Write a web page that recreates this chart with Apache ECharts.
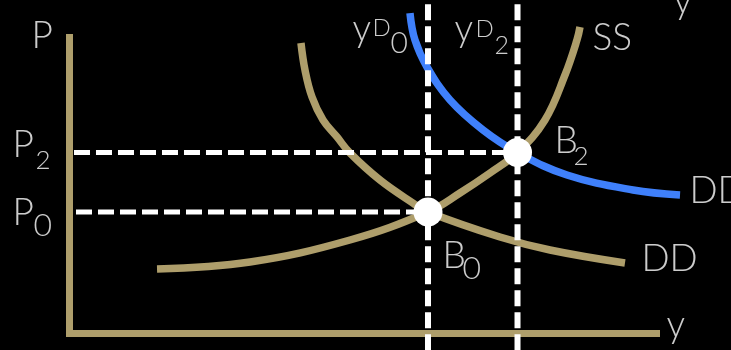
<!DOCTYPE html>
<html>
<head>
<meta charset="utf-8">
<script src="https://cdn.jsdelivr.net/npm/echarts@6/dist/echarts.min.js"></script>
<style>
html,body{margin:0;padding:0;background:#000;}
#c{width:731px;height:350px;}
</style>
</head>
<body>
<div id="c"></div>
<script>
// Axis frame (output y on x axis, price P on y axis), units 0..100
var axisFrame = [[0, 100], [0, 0], [100, 0]];
// Aggregate supply curve SS
var ssCurve = [[14.82, 21.54], [30.57, 23.87], [47.50, 31.22], [60.71, 40.57], [66.13, 46.91], [71.21, 53.59], [75.87, 60.43], [80.52, 71.29], [83.91, 86.31], [85.94, 98.00], [86.45, 102.34]];
// Original demand curve DD
var dd0Curve = [[39.20, 97.00], [39.88, 87.98], [41.07, 78.96], [42.93, 71.29], [45.30, 65.61], [47.50, 60.27], [52.58, 51.25], [58.17, 43.57], [60.71, 40.57], [72.90, 32.22], [81.37, 27.88], [94.07, 23.54]];
// Shifted demand curve DD (blue)
var dd2Curve = [[57.66, 107.01], [58.50, 98.00], [60.54, 88.98], [64.44, 77.96], [70.03, 67.95], [75.87, 60.43], [84.25, 52.92], [95.43, 47.91], [103.39, 46.24]];
// Equilibria B0, B2
var equilibria = [[60.71, 40.57], [75.87, 60.43]];
// Guide lines
var guideP2 = [[0.76, 60.43], [75.87, 60.43]];
var guideP0 = [[1.10, 40.57], [60.71, 40.57]];
var guideY0 = [[60.71, -5.6], [60.71, 111.4]];
var guideY2 = [[75.87, -5.6], [75.87, 111.4]];
// Text labels: text, anchor x, anchor y, font size
var labelTexts = ['P', 'P', '2', 'P', '0', 'B', '0', 'B', '2', 'SS', 'DD', 'DD', 'y', 'y', 'y', 'D', '0', 'y', 'D', '2'];
var labelX = [-6.35, -9.57, -5.67, -9.57, -6.01, 63.25, 66.64, 82.22, 85.44, 88.65, 105.08, 96.95, 101.19, 102.37, 48.01, 51.40, 54.45, 65.28, 68.84, 72.06];
var labelY = [99.17, 62.77, 57.60, 40.07, 35.89, 25.71, 21.37, 63.94, 58.76, 98.33, 47.25, 24.54, 2.50, 110.68, 101.34, 101.84, 96.83, 101.34, 101.34, 95.99];
var labelSize = [37, 37, 26, 37, 32, 37, 32, 37, 26, 37, 37, 37, 37, 37, 37, 24, 30, 37, 24, 25];

var TAN = '#ae9e6b';
var BLUE = '#3f80fb';
var FONT = 'Lato, "Noto Sans", sans-serif';

var chart = echarts.init(document.getElementById('c'), null, {renderer: 'canvas'});

function curve(data, color) {
  return {type: 'line', data: data, smooth: 0.4, showSymbol: false, symbol: 'none', clip: false,
    lineStyle: {color: color, width: 7.5, cap: 'butt'}, silent: true, z: 2};
}
function guide(data, w, off) {
  return {type: 'line', data: data, showSymbol: false, symbol: 'none', clip: false,
    lineStyle: {color: '#fff', width: w, type: [16, 6], dashOffset: off || 0, cap: 'butt'}, silent: true, z: 3};
}

var labelData = labelTexts.map(function (t, i) {
  return {value: [labelX[i], labelY[i]],
    label: {show: true, formatter: t, fontSize: labelSize[i], position: [0, 0], align: 'left', verticalAlign: 'middle',
      color: '#fff', fontFamily: FONT, fontWeight: 300}};
});

chart.setOption({
  animation: false,
  backgroundColor: '#000',
  grid: {left: 69.5, right: 11.95, top: 34, bottom: 16.5},
  xAxis: {type: 'value', min: 0, max: 110, show: false},
  yAxis: {type: 'value', min: 0, max: 100, show: false},
  series: [
    {type: 'line', data: axisFrame, showSymbol: false, symbol: 'none', clip: false,
      lineStyle: {color: TAN, width: 7, join: 'miter', cap: 'butt'}, silent: true, z: 1},
    curve(ssCurve, TAN),
    curve(dd0Curve, TAN),
    curve(dd2Curve, BLUE),
    guide(guideP2, 5, 0),
    guide(guideP0, 5, 0),
    guide(guideY0, 6, 0),
    guide(guideY2, 6, 0),
    {type: 'scatter', data: equilibria, symbol: 'circle', symbolSize: 29, clip: false,
      itemStyle: {color: '#fff', opacity: 1}, silent: true, z: 5},
    {type: 'scatter', data: labelData, symbolSize: 1, clip: false, itemStyle: {color: 'rgba(0,0,0,0)'}, silent: true, z: 6}
  ]
});
</script>
</body>
</html>
